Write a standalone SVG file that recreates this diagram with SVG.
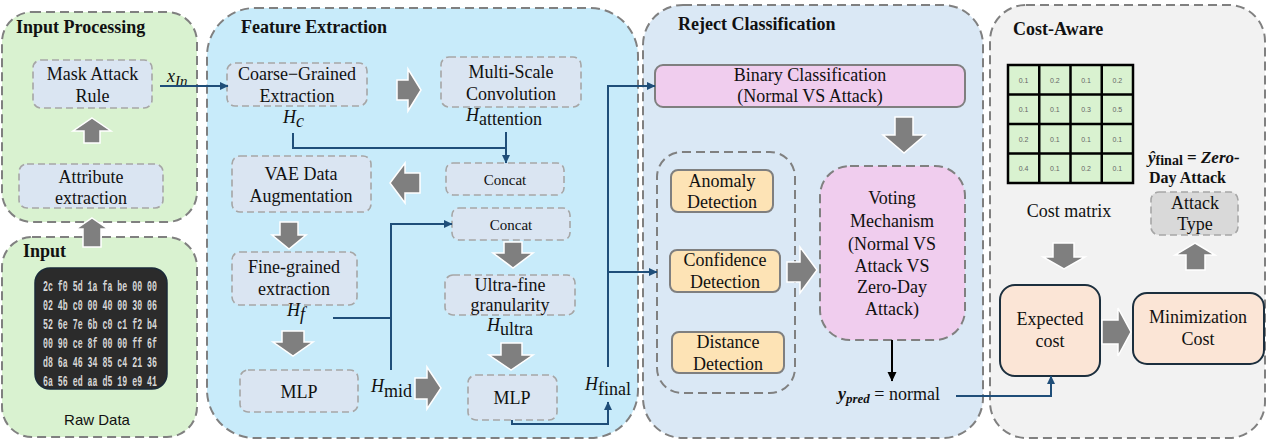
<svg xmlns="http://www.w3.org/2000/svg" width="1268" height="441" viewBox="0 0 1268 441">
<defs>
<marker id="nav" markerUnits="userSpaceOnUse" markerWidth="9" markerHeight="9" refX="8" refY="4.5" orient="auto"><path d="M0,0.5 L8.5,4.5 L0,8.5 Z" fill="#1f4e79"/></marker>
<marker id="blk" markerUnits="userSpaceOnUse" markerWidth="10" markerHeight="10" refX="9" refY="5" orient="auto"><path d="M0,0.5 L9.5,5 L0,9.5 Z" fill="#000"/></marker>
</defs>
<style>
text{font-family:"Liberation Serif",serif;fill:#111;}
.t{font-size:18px;text-anchor:middle;}
.s{font-size:15px;text-anchor:middle;}
.ttl{font-size:18px;font-weight:bold;}
.panel{stroke:#808080;stroke-width:2;stroke-dasharray:9 5;}
.nb{fill:#dae5f2;stroke:#a6a6a6;stroke-width:1.6;stroke-dasharray:7 4;}
.pk{fill:#f0cdee;stroke:#7f7f7f;stroke-width:2;}
.or{fill:#fde3b5;stroke:#7f7f7f;stroke-width:2;}
.pe{fill:#fbe5d6;stroke:#1c2f3e;stroke-width:2;}
.ba{fill:#7f7f7f;stroke:#fff;stroke-width:1.5;}
.ln{fill:none;stroke:#1f4e79;stroke-width:2;}
.hex{font-family:"Liberation Mono",monospace;font-size:15px;font-weight:bold;fill:#d6d6d6;}
.mx{font-family:"Liberation Sans",sans-serif;font-size:7px;fill:#666;text-anchor:middle;}
.it{font-style:italic;}
</style>

<!-- panels -->
<g id="panel-input-processing">
<rect x="2" y="12" width="195" height="210" rx="30" fill="#d9f2d0" class="panel"/>
<text x="16" y="33" class="ttl">Input Processing</text>
</g>
<g id="panel-input">
<rect x="2" y="237" width="195" height="200" rx="30" fill="#d9f2d0" class="panel"/>
<text x="23" y="257" class="ttl">Input</text>
</g>
<g id="panel-feature">
<rect x="207" y="8" width="431" height="430" rx="48" fill="#c8ebfa" class="panel"/>
<text x="241" y="33" class="ttl">Feature Extraction</text>
</g>
<g id="panel-reject">
<rect x="643" y="5" width="340" height="433" rx="40" fill="#dae8f5" class="panel"/>
<text x="678" y="30" class="ttl">Reject Classification</text>
</g>
<g id="panel-cost">
<rect x="990" y="5" width="275" height="433" rx="36" fill="#f2f2f2" class="panel"/>
<text x="1013" y="35" class="ttl">Cost-Aware</text>
</g>

<!-- Input processing nodes -->
<g id="mask-attack-rule">
<rect x="33" y="60" width="119" height="48" rx="8" class="nb"/>
<text x="92.5" y="80" class="t">Mask Attack</text>
<text x="92.5" y="102" class="t">Rule</text>
</g>
<g id="attribute-extraction">
<rect x="19" y="164" width="144" height="44" rx="8" class="nb"/>
<text x="91" y="183" class="t">Attribute</text>
<text x="91" y="204" class="t">extraction</text>
</g>

<!-- Raw data -->
<g id="raw-data">
<rect x="35" y="268" width="132" height="121" rx="15" fill="#2b2b2b" stroke="#1b2a38" stroke-width="1.5"/>
<text x="43" y="291" class="hex" textLength="114" lengthAdjust="spacingAndGlyphs">2c f0 5d 1a fa be 00 00</text>
<text x="43" y="310" class="hex" textLength="114" lengthAdjust="spacingAndGlyphs">02 4b c0 00 40 00 30 06</text>
<text x="43" y="329" class="hex" textLength="114" lengthAdjust="spacingAndGlyphs">52 6e 7e 6b c0 c1 f2 b4</text>
<text x="43" y="348" class="hex" textLength="114" lengthAdjust="spacingAndGlyphs">00 90 ce 8f 00 00 ff 6f</text>
<text x="43" y="367" class="hex" textLength="114" lengthAdjust="spacingAndGlyphs">d8 6a 46 34 85 c4 21 36</text>
<text x="43" y="386" class="hex" textLength="114" lengthAdjust="spacingAndGlyphs">6a 56 ed aa d5 19 e9 41</text>
<text x="97" y="425" style="font-family:'Liberation Sans',sans-serif;font-size:15px;text-anchor:middle">Raw Data</text>
</g>

<!-- Feature extraction nodes -->
<g id="coarse-grained">
<rect x="227" y="63" width="140" height="43" rx="8" class="nb"/>
<text x="297" y="80" class="t">Coarse−Grained</text>
<text x="297" y="102" class="t">Extraction</text>
</g>
<g id="multi-scale">
<rect x="441" y="57" width="140" height="50" rx="8" class="nb"/>
<text x="511" y="78" class="t">Multi-Scale</text>
<text x="511" y="100" class="t">Convolution</text>
</g>
<g id="vae">
<rect x="232" y="156" width="139" height="56" rx="8" class="nb"/>
<text x="301" y="180" class="t">VAE Data</text>
<text x="301" y="202" class="t">Augmentation</text>
</g>
<g id="concat1">
<rect x="446" y="163" width="118" height="32" rx="7" class="nb"/>
<text x="505" y="185" class="s">Concat</text>
</g>
<g id="concat2">
<rect x="452" y="208" width="118" height="32" rx="7" class="nb"/>
<text x="511" y="230" class="s">Concat</text>
</g>
<g id="fine-grained">
<rect x="232" y="252" width="125" height="53" rx="8" class="nb"/>
<text x="294" y="273" class="t">Fine-grained</text>
<text x="294" y="295" class="t">extraction</text>
</g>
<g id="ultra-fine">
<rect x="445" y="275" width="130" height="40" rx="8" class="nb"/>
<text x="510" y="291" class="t">Ultra-fine</text>
<text x="510" y="311" class="t">granularity</text>
</g>
<g id="mlp1">
<rect x="240" y="370" width="118" height="42" rx="8" class="nb"/>
<text x="299" y="398" class="t">MLP</text>
</g>
<g id="mlp2">
<rect x="468" y="375" width="89" height="45" rx="8" class="nb"/>
<text x="512" y="404" class="t">MLP</text>
</g>

<!-- math labels -->
<g id="labels">
<text x="167" y="82" style="font-size:18px"><tspan class="it">x</tspan><tspan class="it" dy="4" font-size="15">In</tspan></text>
<text x="283" y="123" style="font-size:18px"><tspan class="it">H</tspan><tspan class="it" dy="4">c</tspan></text>
<text x="466" y="121" style="font-size:18px"><tspan class="it">H</tspan><tspan dy="4">attention</tspan></text>
<text x="287" y="316" style="font-size:18px"><tspan class="it">H</tspan><tspan class="it" dy="4">f</tspan></text>
<text x="371" y="392" style="font-size:18px"><tspan class="it">H</tspan><tspan dy="5">mid</tspan></text>
<text x="487" y="331" style="font-size:18px"><tspan class="it">H</tspan><tspan dy="4">ultra</tspan></text>
<text x="585" y="390" style="font-size:18px"><tspan class="it">H</tspan><tspan dy="5">final</tspan></text>
<text x="838" y="400" style="font-size:18px"><tspan font-weight="bold" class="it">y</tspan><tspan font-weight="bold" class="it" font-size="13" dy="3">pred</tspan><tspan dy="-3"> = normal</tspan></text>
<text x="1148" y="163" style="font-size:17px;font-weight:bold"><tspan class="it">ŷ</tspan><tspan font-size="14" dy="2">final</tspan><tspan dy="-2"> = </tspan><tspan class="it">Zero-</tspan></text>
<text x="1149" y="183" style="font-size:16px;font-weight:bold">Day Attack</text>
</g>

<!-- Reject nodes -->
<g id="binary-classification">
<rect x="655" y="65" width="310" height="42" rx="8" class="pk"/>
<text x="810" y="81" class="t">Binary Classification</text>
<text x="810" y="102" class="t">(Normal VS Attack)</text>
</g>
<g id="detectors">
<rect x="657" y="152" width="138" height="241" rx="25" fill="none" class="panel"/>
</g>
<g id="anomaly-detection">
<rect x="671" y="170" width="102" height="42" rx="7" class="or"/>
<text x="722" y="187" class="t">Anomaly</text>
<text x="722" y="208" class="t">Detection</text>
</g>
<g id="confidence-detection">
<rect x="670" y="250" width="110" height="42" rx="7" class="or"/>
<text x="725" y="266" class="t">Confidence</text>
<text x="725" y="288" class="t">Detection</text>
</g>
<g id="distance-detection">
<rect x="672" y="332" width="112" height="41" rx="7" class="or"/>
<text x="728" y="348" class="t">Distance</text>
<text x="728" y="370" class="t">Detection</text>
</g>
<g id="voting">
<rect x="820" y="166" width="145" height="174" rx="30" fill="#f0cdee" class="panel"/>
<text x="892" y="204" class="t">Voting</text>
<text x="892" y="227" class="t">Mechanism</text>
<text x="892" y="250" class="t">(Normal VS</text>
<text x="892" y="272" class="t">Attack VS</text>
<text x="892" y="293" class="t">Zero-Day</text>
<text x="892" y="315" class="t">Attack)</text>
</g>

<!-- Cost-aware nodes -->
<g id="cost-matrix">
<rect x="1008" y="65" width="125" height="118" fill="#d9f2d0" stroke="#000" stroke-width="2.5"/>
<path d="M1039.25,65 V183 M1070.5,65 V183 M1101.75,65 V183 M1008,94.5 H1133 M1008,124 H1133 M1008,153.5 H1133" stroke="#000" stroke-width="2.5" fill="none"/>
<text x="1023.6" y="82.5" class="mx">0.1</text><text x="1054.9" y="82.5" class="mx">0.2</text><text x="1086.1" y="82.5" class="mx">0.1</text><text x="1117.4" y="82.5" class="mx">0.2</text>
<text x="1023.6" y="112" class="mx">0.1</text><text x="1054.9" y="112" class="mx">0.1</text><text x="1086.1" y="112" class="mx">0.3</text><text x="1117.4" y="112" class="mx">0.5</text>
<text x="1023.6" y="141.5" class="mx">0.2</text><text x="1054.9" y="141.5" class="mx">0.1</text><text x="1086.1" y="141.5" class="mx">0.1</text><text x="1117.4" y="141.5" class="mx">0.1</text>
<text x="1023.6" y="171" class="mx">0.4</text><text x="1054.9" y="171" class="mx">0.1</text><text x="1086.1" y="171" class="mx">0.2</text><text x="1117.4" y="171" class="mx">0.1</text>
<text x="1069" y="217" class="t">Cost matrix</text>
</g>
<g id="attack-type">
<rect x="1151" y="192" width="87" height="43" rx="8" fill="#d9d9d9" stroke="#a6a6a6" stroke-width="1.6" stroke-dasharray="7 4"/>
<text x="1195" y="209" class="t">Attack</text>
<text x="1195" y="230" class="t">Type</text>
</g>
<g id="expected-cost">
<rect x="1000" y="285" width="100" height="91" rx="15" class="pe"/>
<text x="1050" y="325" class="t">Expected</text>
<text x="1050" y="347" class="t">cost</text>
</g>
<g id="minimization-cost">
<rect x="1133" y="293" width="131" height="71" rx="14" class="pe"/>
<text x="1198" y="323" class="t">Minimization</text>
<text x="1198" y="345" class="t">Cost</text>
</g>

<!-- connectors -->
<g id="connectors">
<path d="M160,86 H228" class="ln" marker-end="url(#nav)"/>
<path d="M293,133 V148 H506" class="ln"/>
<path d="M506,132 V163" class="ln" marker-end="url(#nav)"/>
<path d="M333,318 H391" class="ln"/>
<path d="M391,370 V224 H452" class="ln" marker-end="url(#nav)"/>
<path d="M512,420 V424 H608 V402" class="ln" marker-end="url(#nav)"/>
<path d="M608,367 V86 H655" class="ln" marker-end="url(#nav)"/>
<path d="M608,272 H657" class="ln" marker-end="url(#nav)"/>
<path d="M892,340 V381" fill="none" stroke="#000" stroke-width="2" marker-end="url(#blk)"/>
<path d="M956,396 H1051 V376" class="ln" marker-end="url(#nav)"/>
<path d="M92,118 L111,131 H100 V143 H84 V131 H73 Z" class="ba"/>
<path d="M92,218 L108,229 H101 V247 H83 V229 H76 Z" class="ba"/>
<path d="M397,80 H408 V69 L421,90 L408,111 V100 H397 Z" class="ba"/>
<path d="M390,183 L405,163 V173 H420 V193 H405 V203 Z" class="ba"/>
<path d="M280,222 H298 V235 H306 L289,249 L272,235 H280 Z" class="ba"/>
<path d="M282,331 H304 V342 H313 L293,356 L273,342 H282 Z" class="ba"/>
<path d="M415,378 H427 V367 L441,388 L427,409 V399 H415 Z" class="ba"/>
<path d="M504,242 H522 V253 H533 L513,268 L493,253 H504 Z" class="ba"/>
<path d="M501,343 H522 V355 H533 L511,370 L489,355 H501 Z" class="ba"/>
<path d="M895,117 H913 V135 H925 L904,153 L883,135 H895 Z" class="ba"/>
<path d="M787,262 H800 V247 L817,270 L800,293 V282 H787 Z" class="ba"/>
<path d="M1053,243 H1074 V257 H1085 L1064,269 L1043,257 H1053 Z" class="ba"/>
<path d="M1195,243 L1215,255 H1205 V270 H1186 V255 H1175 Z" class="ba"/>
<path d="M1102,320 H1118 V308 L1131,332 L1118,356 V344 H1102 Z" class="ba"/>
</g>
</svg>
